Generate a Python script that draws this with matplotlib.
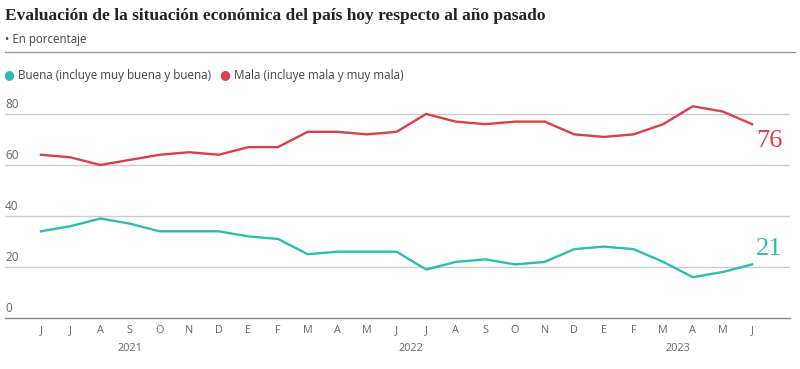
import matplotlib.pyplot as plt
from matplotlib.lines import Line2D

# datos: junio 2021 - junio 2023
meses = ['J', 'J', 'A', 'S', 'O', 'N', 'D', 'E', 'F', 'M', 'A', 'M',
         'J', 'J', 'A', 'S', 'O', 'N', 'D', 'E', 'F', 'M', 'A', 'M', 'J']
anios = [2021] * 7 + [2022] * 12 + [2023] * 6
buena = [34, 36, 39, 37, 34, 34, 34, 32, 31, 25, 26, 26,
         26, 19, 22, 23, 21, 22, 27, 28, 27, 22, 16, 18, 21]
mala = [64, 63, 60, 62, 64, 65, 64, 67, 67, 73, 73, 72,
        73, 80, 77, 76, 77, 77, 72, 71, 72, 76, 83, 81, 76]

c_buena = '#2bbdb0'
c_mala = '#d93f4c'
gris = '#666666'
sans = 'Open Sans'

fig = plt.figure(figsize=(8, 3.69), dpi=100)
W, H = 800, 369

# titulo y subtitulo
fig.text(5 / W, 1 - 16 / H, 'Evaluación de la situación económica del país hoy respecto al año pasado',
         fontsize=12.5, fontweight='bold', family='Liberation Serif', color='#222222', va='center')
fig.text(5 / W, 1 - 39 / H, '• En porcentaje', fontsize=8.3, family=sans, color='#444444', va='center')
fig.add_artist(Line2D([5 / W, 795 / W], [1 - 52 / H, 1 - 52 / H], color='#999999', lw=1))

# leyenda
fig.text(3 / W, 1 - 75 / H, '●', fontsize=9, color=c_buena, va='center', family='DejaVu Sans')
fig.text(18 / W, 1 - 75 / H, 'Buena (incluye muy buena y buena)', fontsize=8.4, family=sans, color='#444444', va='center')
fig.text(219 / W, 1 - 75 / H, '●', fontsize=9, color=c_mala, va='center', family='DejaVu Sans')
fig.text(234 / W, 1 - 75 / H, 'Mala (incluye mala y muy mala)', fontsize=8.4, family=sans, color='#444444', va='center')

# ejes
ax = fig.add_axes([5 / W, 1 - 318 / H, 785 / W, 228 / H])
x = list(range(len(meses)))
ax.plot(x, buena, color=c_buena, lw=1.7, solid_joinstyle='round')
ax.plot(x, mala, color=c_mala, lw=1.7, solid_joinstyle='round')

ax.set_xlim(-1.215, 25.28)
ax.set_ylim(0, 89.4)
for v in [20, 40, 60, 80]:
    ax.axhline(v, color='#cccccc', lw=1, zorder=0)
for v in [0, 20, 40, 60, 80]:
    ax.text(0.0, v + 1.2, str(v), transform=ax.get_yaxis_transform(), fontsize=8.5,
            family=sans, color=gris, va='bottom')
ax.axhline(0, color='#888888', lw=1, zorder=0, clip_on=False)

for s in ax.spines.values():
    s.set_visible(False)
ax.set_yticks([])
ax.set_xticks(x)
ax.set_xticklabels(meses, fontsize=7.8, family=sans, color=gris)
ax.tick_params(axis='x', length=0, pad=5)

# etiquetas de anio centradas en sus meses
for a in sorted(set(anios)):
    idx = [i for i, v in enumerate(anios) if v == a]
    centro = (idx[0] + idx[-1]) / 2
    ax.text(centro, -0.11, str(a), transform=ax.get_xaxis_transform(), fontsize=7.8,
            family=sans, color=gris, ha='center', va='top')

# valores finales
ax.annotate(str(mala[-1]), (x[-1], mala[-1]), xytext=(3, -4), textcoords='offset points',
            fontsize=19, family='Liberation Serif', color=c_mala, ha='left', va='top')
ax.annotate(str(buena[-1]), (x[-1], buena[-1]), xytext=(3, 3), textcoords='offset points',
            fontsize=19, family='Liberation Serif', color=c_buena, ha='left', va='bottom')

plt.savefig('out.png', dpi=100)
